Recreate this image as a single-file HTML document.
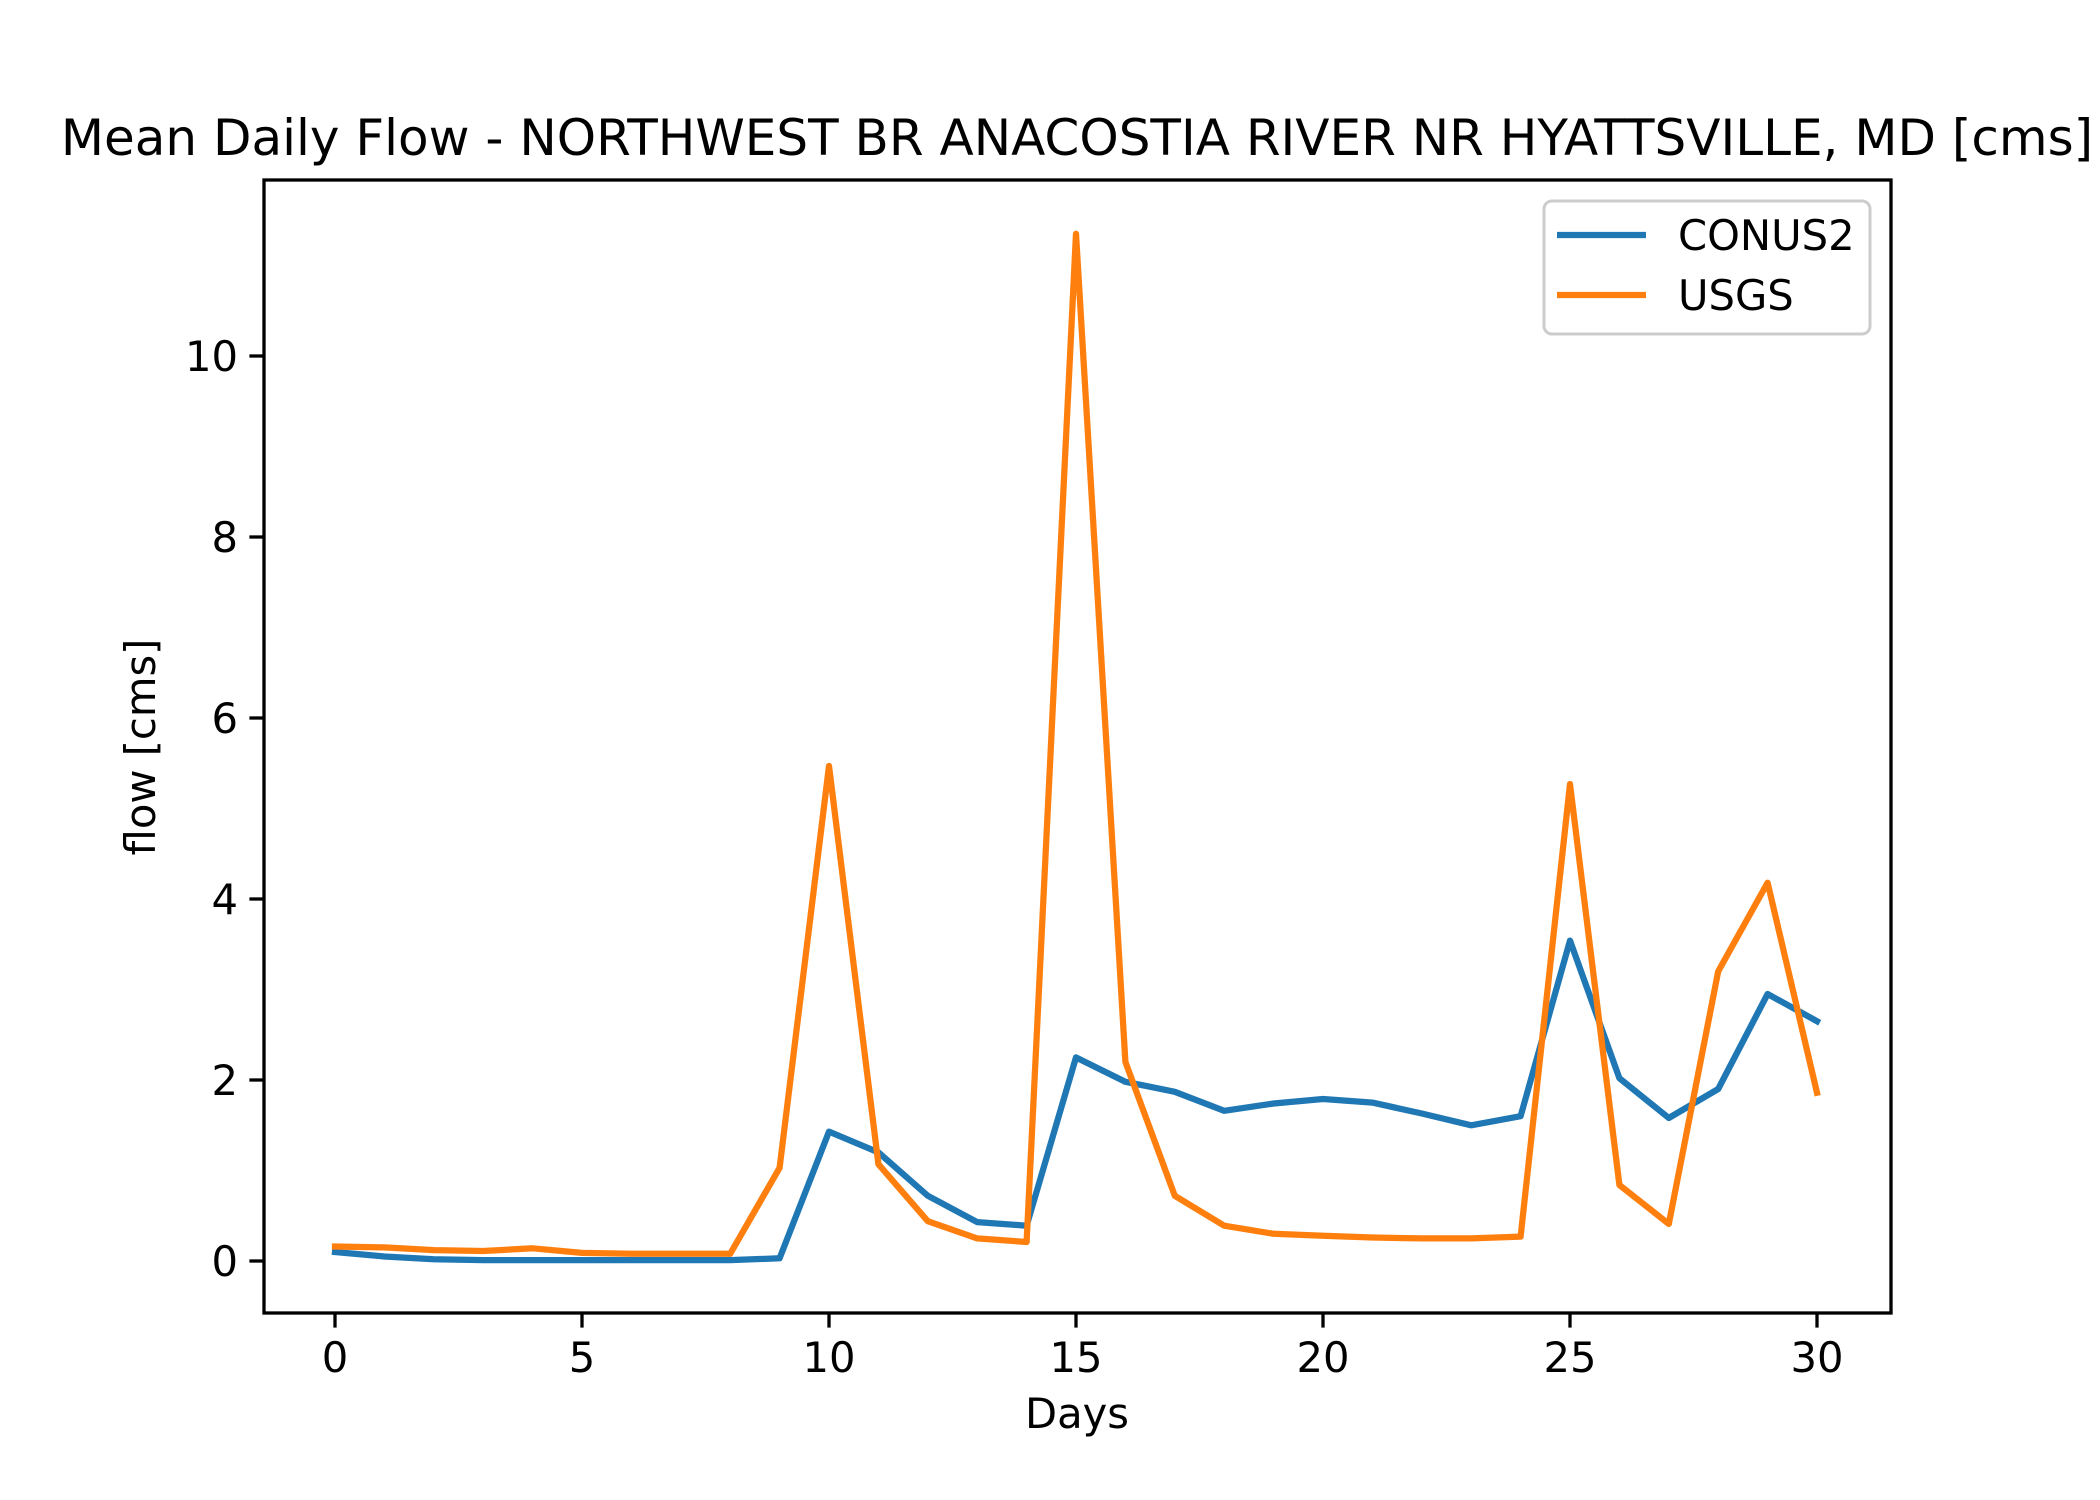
<!DOCTYPE html>
<html><head><meta charset="utf-8"><style>
html,body{margin:0;padding:0;background:#fff}
svg{display:block}
text{font-family:"DejaVu Sans","Liberation Sans",sans-serif;fill:#000}
</style></head><body>
<svg id="chart" width="2100" height="1500" viewBox="0 0 2100 1500">
<rect width="2100" height="1500" fill="#fff"/>
<text x="1077" y="155" font-size="50" text-anchor="middle">Mean Daily Flow - NORTHWEST BR ANACOSTIA RIVER NR HYATTSVILLE, MD [cms]</text>
<g id="plot"></g>
<g id="axes"></g>
<text x="1077" y="1428" font-size="41.7" text-anchor="middle">Days</text>
<text transform="translate(155,747) rotate(-90)" font-size="41.7" text-anchor="middle">flow [cms]</text>
<g>
<rect x="1544" y="201" width="326" height="133" rx="8" fill="#fff" fill-opacity="0.8" stroke="#ccc" stroke-width="3"/>
<line x1="1557" y1="235" x2="1646" y2="235" stroke="#1f77b4" stroke-width="6.25"/>
<text x="1678" y="250" font-size="41.7">CONUS2</text>
<line x1="1557" y1="295" x2="1646" y2="295" stroke="#ff7f0e" stroke-width="6.25"/>
<text x="1678" y="310" font-size="41.7">USGS</text>
</g>
</svg>
<script>
const days = [0,1,2,3,4,5,6,7,8,9,10,11,12,13,14,15,16,17,18,19,20,21,22,23,24,25,26,27,28,29,30];
const conus2 = [0.1,0.05,0.02,0.01,0.01,0.01,0.01,0.01,0.01,0.03,1.43,1.2,0.72,0.43,0.39,2.25,1.98,1.87,1.66,1.74,1.79,1.75,1.63,1.5,1.6,3.54,2.02,1.58,1.9,2.95,2.65];
const usgs = [0.16,0.15,0.12,0.11,0.14,0.09,0.08,0.08,0.08,1.03,5.47,1.07,0.44,0.25,0.21,11.35,2.2,0.72,0.39,0.3,0.28,0.26,0.25,0.25,0.27,5.27,0.84,0.41,3.2,4.18,1.86];
const xTicks = [0,5,10,15,20,25,30];
const yTicks = [0,2,4,6,8,10];

const NS = 'http://www.w3.org/2000/svg';
const L=264,R=1891,T=180,B=1313;
function xs(v){return 335 + v*(1817-335)/30;}
function ys(v){return 1261 - v*90.5;}
const plot=document.getElementById('plot'), axes=document.getElementById('axes');
function mk(tag,attrs,parent){const e=document.createElementNS(NS,tag);for(const k in attrs)e.setAttribute(k,attrs[k]);parent.appendChild(e);return e;}

function drawLine(vals,color,name){
  const pts=days.map((d,i)=>xs(d).toFixed(1)+','+ys(vals[i]).toFixed(1)).join(' ');
  const p=mk('polyline',{points:pts,fill:'none',stroke:color,'stroke-width':6.25,'stroke-linejoin':'round','stroke-linecap':'square'},plot);
  
  
}
drawLine(conus2,'#1f77b4','series-conus2');
drawLine(usgs,'#ff7f0e','series-usgs');

const frame=mk('rect',{x:L,y:T,width:R-L,height:B-T,fill:'none',stroke:'#000','stroke-width':3.3},axes);



xTicks.forEach(t=>{
  const x=xs(t);
  const tk=mk('line',{x1:x,y1:B,x2:x,y2:B+14.6,stroke:'#000','stroke-width':3.3},axes);
  
  
  const tx=mk('text',{x:x,y:1372,'font-size':41.7,'text-anchor':'middle'},axes);
  tx.textContent=t;
  
  
});
yTicks.forEach(t=>{
  const y=ys(t);
  const tk=mk('line',{x1:L-14.6,y1:y,x2:L,y2:y,stroke:'#000','stroke-width':3.3},axes);
  
  
  const tx=mk('text',{x:L-26,y:y+15,'font-size':41.7,'text-anchor':'end'},axes);
  tx.textContent=t;
  
  
});
</script>
</body></html>
